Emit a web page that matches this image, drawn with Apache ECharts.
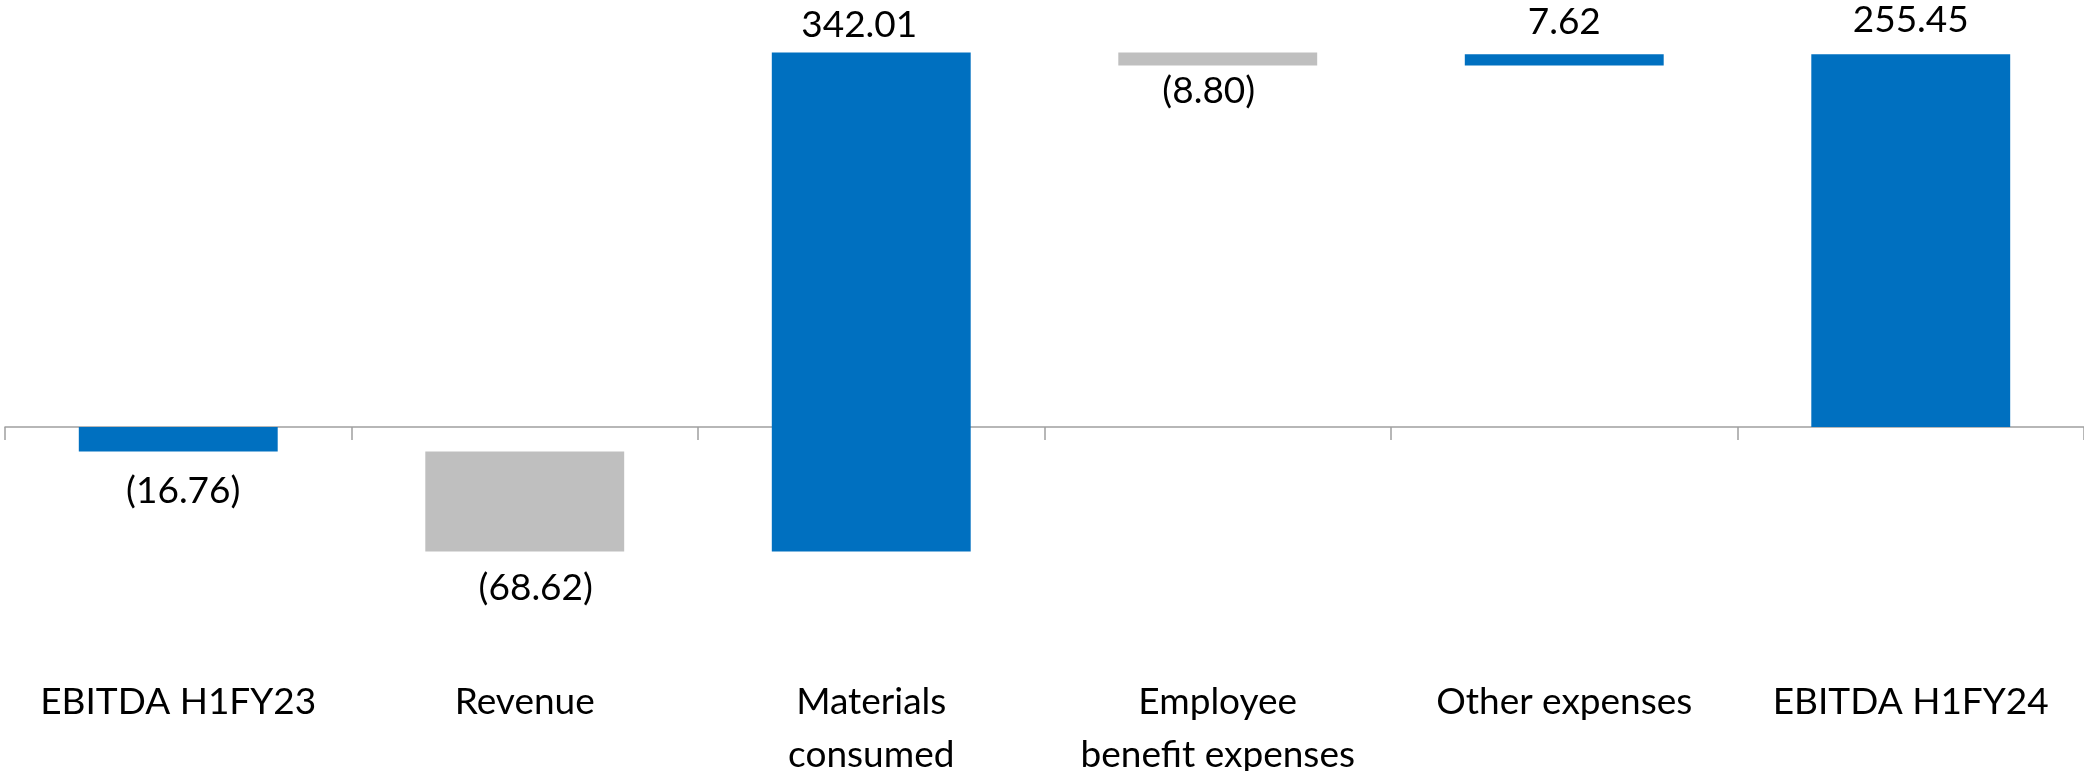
<!DOCTYPE html>
<html>
<head>
<meta charset="utf-8">
<script src="https://cdn.jsdelivr.net/npm/echarts@6/dist/echarts.min.js"></script>
<style>
html,body{margin:0;padding:0;background:#fff;}
#chart{width:2084px;height:771px;}
</style>
</head>
<body>
<div id="chart"></div>
<script>
const categories = ['EBITDA H1FY23', 'Revenue', 'Materials\nconsumed', 'Employee\nbenefit expenses', 'Other expenses', 'EBITDA H1FY24'];
const changes = [-16.76, -68.62, 342.01, -8.80, 7.62, 255.45];
const isTotal = [true, false, false, false, false, true];

// layout nudges for the value labels (distance from bar, horizontal shift)
const labelDistance = [21, 18, 9, 7, 14, 16];
const labelShift = [5, 11, -12, -9, 0, 0];

const BLUE = '#0070C0';
const GRAY = '#BFBFBF';

const baseData = [];
const barData = [];
let running = 0;
changes.forEach((v, i) => {
  let start, end;
  if (isTotal[i]) { start = 0; end = v; running = v; }
  else { start = running; end = running + v; running = end; }
  const low = Math.min(start, end), high = Math.max(start, end);
  baseData.push(low);
  const color = (isTotal[i] || v >= 0) ? BLUE : GRAY;
  barData.push({
    value: +(high - low).toFixed(2),
    itemStyle: { color: color },
    label: {
      position: v < 0 ? 'bottom' : 'top',
      distance: labelDistance[i],
      offset: [labelShift[i], 0]
    }
  });
});

function fmt(v) {
  return v < 0 ? '(' + Math.abs(v).toFixed(2) + ')' : v.toFixed(2);
}

const chart = echarts.init(document.getElementById('chart'));
chart.setOption({
  animation: false,
  backgroundColor: '#ffffff',
  grid: { left: 5, right: 0, top: 18.5, bottom: 110.6, containLabel: false, outerBoundsMode: 'none' },
  xAxis: [
    {
      // category labels, placed at the bottom of the plot
      type: 'category',
      data: categories,
      position: 'bottom',
      axisLine: { show: false, onZero: false },
      axisTick: { show: false },
      axisLabel: {
        show: true,
        interval: 0,
        margin: 15,
        color: '#000000',
        fontFamily: 'Lato',
        fontSize: 37,
        lineHeight: 53,
        hideOverlap: false
      },
      splitLine: { show: false }
    },
    {
      // zero line with boundary ticks
      type: 'category',
      data: categories,
      position: 'bottom',
      axisLine: { show: true, onZero: true, lineStyle: { color: '#A0A0A0', width: 1.5 } },
      axisTick: { show: true, inside: false, length: 13, alignWithLabel: false, interval: 0, lineStyle: { color: '#A0A0A0', width: 1.5 } },
      axisLabel: { show: false },
      splitLine: { show: false }
    }
  ],
  yAxis: {
    type: 'value',
    min: -160,
    max: 280,
    show: false,
    splitLine: { show: false }
  },
  series: [
    {
      type: 'bar',
      stack: 'wf',
      stackStrategy: 'all',
      barWidth: '57.4%',
      xAxisIndex: 0,
      itemStyle: { color: 'rgba(0,0,0,0)' },
      emphasis: { disabled: true },
      data: baseData,
      silent: true
    },
    {
      type: 'bar',
      stack: 'wf',
      stackStrategy: 'all',
      barWidth: '57.4%',
      xAxisIndex: 0,
      data: barData,
      label: {
        show: true,
        color: '#000000',
        fontFamily: 'Lato',
        fontSize: 37,
        lineHeight: 37,
        formatter: p => fmt(changes[p.dataIndex])
      }
    }
  ]
});
</script>
</body>
</html>
